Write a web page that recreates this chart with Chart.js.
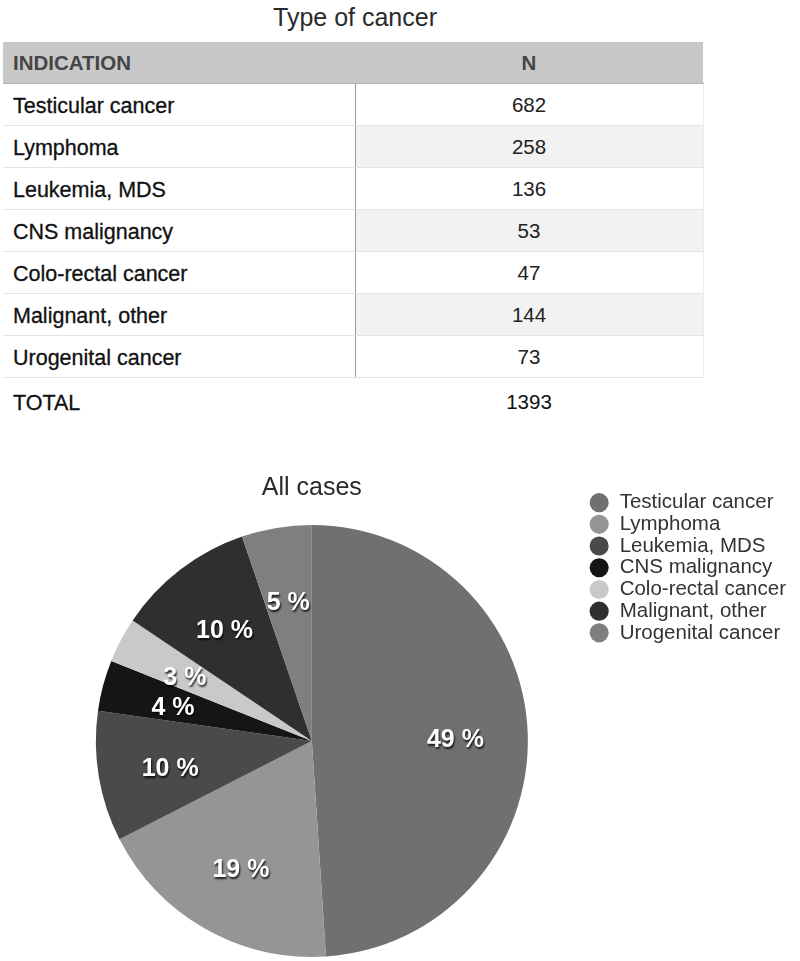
<!DOCTYPE html>
<html>
<head>
<meta charset="utf-8">
<title>Type of cancer</title>
<script src="https://cdn.jsdelivr.net/npm/chart.js@4.4.1/dist/chart.umd.min.js"></script>
<style>
  body { margin: 0; background: #fff; font-family: "Liberation Sans", Arial, sans-serif; width: 800px; height: 961px; position: relative; overflow: hidden; }
  #tableTitle { position: absolute; left: 0; top: 3px; width: 710px; text-align: center; font-size: 25px; line-height: 28px; color: #2a2a2a; }
  table { position: absolute; left: 3px; top: 42px; width: 700px; border-collapse: collapse; table-layout: fixed; }
  th, td { padding: 0; height: 41px; font-size: 20.5px; }
  th { background: #c8c8c8; color: #454545; font-weight: bold; border-bottom: 1px solid #b3b3b3; }
  th.lbl, td.lbl { text-align: left; padding-left: 10px; }
  th.num, td.num { text-align: center; }
  tbody td { border-bottom: 1px solid #e4e4e4; color: #111; }
  tbody td.lbl, tfoot td.lbl { font-size: 21.5px; -webkit-text-stroke: 0.3px #111; }
  td.lbl span { position: relative; top: 2px; }
  tbody td.lbl { border-right: 1px solid #9a9a9a; }
  tbody td.num { color: #222; border-right: 1px solid #ececec; }
  tbody tr.alt td.num { background: #f2f2f2; }
  tfoot td { height: 47px; color: #111; }
  #chartBox { position: absolute; left: 0; top: 460px; width: 800px; height: 501px; }
</style>
</head>
<body>
<div id="tableTitle">Type of cancer</div>
<table>
  <colgroup><col style="width:352px"><col style="width:348px"></colgroup>
  <thead><tr><th class="lbl">INDICATION</th><th class="num">N</th></tr></thead>
  <tbody id="rows"></tbody>
  <tfoot><tr><td class="lbl"><span>TOTAL</span></td><td class="num" id="totalCell"></td></tr></tfoot>
</table>
<div id="chartBox"><canvas id="pieChart"></canvas></div>

<script>
// Data
const categories = ['Testicular cancer', 'Lymphoma', 'Leukemia, MDS', 'CNS malignancy', 'Colo-rectal cancer', 'Malignant, other', 'Urogenital cancer'];
const counts = [682, 258, 136, 53, 47, 144, 73];
const sliceGreys = ['#707070', '#959595', '#4a4a4a', '#151515', '#c9c9c9', '#2f2f2f', '#7f7f7f'];

const total = counts.reduce((a, b) => a + b, 0);

// Table
document.getElementById('rows').innerHTML = categories.map((c, i) => `
  <tr class="${i % 2 === 1 ? 'alt' : ''}"><td class="lbl"><span>${c}</span></td><td class="num">${counts[i]}</td></tr>
`).join('');
document.getElementById('totalCell').textContent = total;

// Percent labels inside the slices
const pctLabels = {
  id: 'pctLabels',
  afterDatasetsDraw(chart) {
    const ctx = chart.ctx;
    const meta = chart.getDatasetMeta(0);
    ctx.save();
    ctx.font = 'bold 25px "Liberation Sans", Arial, sans-serif';
    ctx.fillStyle = '#ffffff';
    ctx.textAlign = 'center';
    ctx.textBaseline = 'middle';
    ctx.shadowColor = 'rgba(0,0,0,0.8)';
    ctx.shadowOffsetX = 1;
    ctx.shadowOffsetY = 2;
    ctx.shadowBlur = 2;
    meta.data.forEach((arc, i) => {
      const p = arc.getProps(['x', 'y', 'startAngle', 'endAngle', 'outerRadius'], true);
      const mid = (p.startAngle + p.endAngle) / 2;
      const r = p.outerRadius * 0.665;
      // small nudge so the digits sit visually centred
      ctx.fillText(Math.round(counts[i] / total * 100) + ' %', p.x + Math.cos(mid) * r, p.y + Math.sin(mid) * r + 4);
    });
    ctx.restore();
  }
};

const font = '"Liberation Sans", Arial, sans-serif';

new Chart(document.getElementById('pieChart'), {
  type: 'pie',
  data: {
    labels: categories,
    datasets: [{
      data: counts,
      backgroundColor: sliceGreys,
      borderWidth: 0
    }]
  },
  options: {
    responsive: true,
    maintainAspectRatio: false,
    animation: false,
    layout: { padding: { left: 36, right: 4, top: 0, bottom: 4 } },
    plugins: {
      title: {
        display: true,
        text: 'All cases',
        fullSize: false,
        color: '#2a2a2a',
        font: { family: font, size: 25, weight: 'normal' },
        padding: { top: 13, bottom: 22 }
      },
      legend: {
        position: 'right',
        align: 'start',
        title: { display: true, text: '', font: { size: 1 }, padding: { top: 30, bottom: 0 } },
        labels: {
          usePointStyle: true,
          pointStyle: 'circle',
          boxWidth: 20.5,
          boxHeight: 13.5,
          padding: 1.2,
          color: '#333',
          font: { family: font, size: 20.5 }
        }
      },
      tooltip: { enabled: false }
    }
  },
  plugins: [pctLabels]
});
</script>
</body>
</html>
